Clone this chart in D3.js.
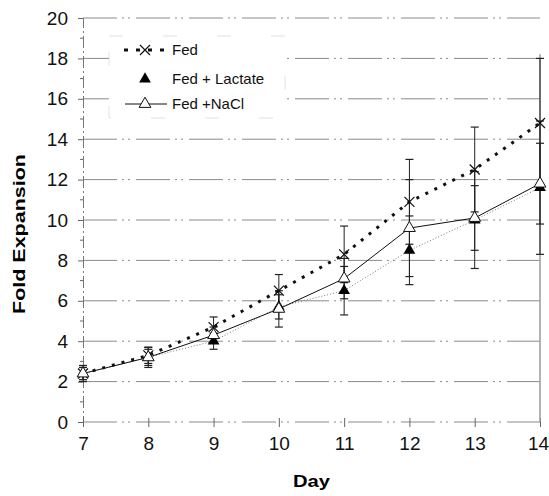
<!DOCTYPE html>
<html>
<head>
<meta charset="utf-8">
<script src="https://cdn.jsdelivr.net/npm/d3@7"></script>
<style>
  body { margin: 0; background: #fff; }
  svg { display: block; font-family: "Liberation Sans", Arial, sans-serif; }
</style>
</head>
<body>
<div id="chart"></div>
<script>
// valores
const days = [7, 8, 9, 10, 11, 12, 13, 14];
const fed = [2.4, 3.3, 4.7, 6.5, 8.3, 10.9, 12.5, 14.8];
const fedErr = [0.4, 0.4, 0.5, 0.8, 1.4, 2.1, 2.1, 3.2];
const lactate = [2.4, 3.2, 4.0, 5.7, 6.5, 8.5, 10.0, 11.6];
const lactateErr = [0.3, 0.5, 0.4, 0.6, 1.2, 1.7, 2.4, 3.3];
const nacl = [2.4, 3.2, 4.3, 5.6, 7.1, 9.6, 10.1, 11.8];
const naclErr = [0.3, 0.4, 0.4, 0.9, 1.0, 2.4, 1.6, 2.0];
const yTicks = [0, 2, 4, 6, 8, 10, 12, 14, 16, 18, 20];
const yMinor = [1, 3, 5, 7, 9, 11, 13, 15, 17, 19];
const legendNames = ["Fed", "Fed + Lactate", "Fed +NaCl"];

const width = 549, height = 496;
const mLeft = 83, mRight = 540, mTop = 18, mBottom = 422;

const svg = d3.select("#chart").append("svg")
    .attr("width", width).attr("height", height);

const x = d3.scaleLinear().domain([7, 14]).range([mLeft, mRight]);
const y = d3.scaleLinear().domain([0, 20]).range([mBottom, mTop]);

// rejilla
svg.append("g")
    .selectAll("line")
    .data(yTicks)
    .enter().append("line")
    .attr("x1", mLeft).attr("x2", mRight)
    .attr("y1", d => y(d)).attr("y2", d => y(d))
    .attr("stroke", "#8a8a8a")
    .attr("stroke-width", 1)
    .attr("stroke-dasharray", "34,5,2,4,2,6");

// eje y
const gy = svg.append("g")
    .attr("transform", `translate(${mLeft},0)`)
    .call(d3.axisLeft(y).tickValues(yTicks).tickSize(5).tickPadding(10));
gy.select(".domain").attr("stroke", "#777").attr("stroke-dasharray", "12,3,2,3");
gy.selectAll(".tick line").attr("stroke", "#666");
gy.selectAll("text").attr("font-size", "19px").attr("fill", "#111")
    .attr("font-family", "Liberation Sans, Arial, sans-serif");

svg.append("g").selectAll("line")
    .data(yMinor).enter().append("line")
    .attr("x1", mLeft - 3).attr("x2", mLeft)
    .attr("y1", d => y(d)).attr("y2", d => y(d))
    .attr("stroke", "#666");

// eje x
const gx = svg.append("g")
    .attr("transform", `translate(0,${mBottom})`)
    .call(d3.axisBottom(x).tickValues(days).tickFormat(d3.format("d")).tickSize(5).tickPadding(10));
gx.select(".domain").attr("stroke", "none");
gx.selectAll(".tick line").attr("stroke", "#666").attr("y1", -4);
gx.selectAll("text").attr("font-size", "19px").attr("fill", "#111")
    .attr("font-family", "Liberation Sans, Arial, sans-serif")
    .attr("dx", d => d === 14 ? -2 : 0);

// borde derecho en el dia 14
svg.append("line")
    .attr("x1", x(14)).attr("x2", x(14))
    .attr("y1", y(18.2)).attr("y2", mBottom)
    .attr("stroke", "#9a9a9a").attr("stroke-width", 1.5);

// leyenda (fondo blanco tapa la rejilla)
const lg = svg.append("g");
lg.append("rect")
    .attr("x", 109).attr("y", 36).attr("width", 176).attr("height", 82)
    .attr("fill", "#fff").attr("stroke", "#ccc").attr("stroke-width", 0.6)
    .attr("stroke-dasharray", "14,40");

const series = [
  {name: legendNames[0], vals: fed, err: fedErr},
  {name: legendNames[1], vals: lactate, err: lactateErr},
  {name: legendNames[2], vals: nacl, err: naclErr}
];

// barras de error
series.forEach(s => {
  const g = svg.append("g");
  days.forEach((d, i) => {
    const cx = x(d), y0 = y(s.vals[i] - s.err[i]), y1 = y(s.vals[i] + s.err[i]);
    g.append("line").attr("x1", cx).attr("x2", cx).attr("y1", y0).attr("y2", y1)
      .attr("stroke", "#222").attr("stroke-width", 1);
    [y0, y1].forEach(v => g.append("line")
      .attr("x1", cx - 4).attr("x2", cx + 4).attr("y1", v).attr("y2", v)
      .attr("stroke", "#222").attr("stroke-width", 1.2));
  });
});

const line = d3.line().x((d, i) => x(days[i])).y(d => y(d));

svg.append("path").datum(lactate).attr("d", line)
    .attr("fill", "none").attr("stroke", "#777").attr("stroke-width", 1)
    .attr("stroke-dasharray", "1,2");
svg.append("path").datum(nacl).attr("d", line)
    .attr("fill", "none").attr("stroke", "#111").attr("stroke-width", 1);
svg.append("path").datum(fed).attr("d", line)
    .attr("fill", "none").attr("stroke", "#111").attr("stroke-width", 3)
    .attr("stroke-dasharray", "3,7");

const cross = "M-5,-5L5,5M-5,5L5,-5";
const tri = d3.symbol().type(d3.symbolTriangle).size(60);

svg.append("g").selectAll("path")
    .data(lactate).enter().append("path")
    .attr("d", tri)
    .attr("transform", (d, i) => `translate(${x(days[i])},${y(d)})`)
    .attr("fill", "#000");

svg.append("g").selectAll("path")
    .data(fed).enter().append("path")
    .attr("d", cross)
    .attr("transform", (d, i) => `translate(${x(days[i])},${y(d)})`)
    .attr("stroke", "#111").attr("stroke-width", 1.2).attr("fill", "none");

svg.append("g").selectAll("path")
    .data(nacl).enter().append("path")
    .attr("d", tri)
    .attr("transform", (d, i) => `translate(${x(days[i])},${y(d)})`)
    .attr("fill", "#fff").attr("stroke", "#111").attr("stroke-width", 1);

// contenido de la leyenda
const ly = [50, 79, 104];
lg.append("line").attr("x1", 124).attr("x2", 166).attr("y1", ly[0]).attr("y2", ly[0])
    .attr("stroke", "#111").attr("stroke-width", 3).attr("stroke-dasharray", "4,8");
lg.append("path").attr("d", cross).attr("transform", `translate(145,${ly[0]})`)
    .attr("stroke", "#111").attr("stroke-width", 1.2).attr("fill", "none");
lg.append("path").attr("d", tri).attr("transform", `translate(145,${ly[1]})`).attr("fill", "#000");
lg.append("line").attr("x1", 125).attr("x2", 167).attr("y1", ly[2]).attr("y2", ly[2])
    .attr("stroke", "#111").attr("stroke-width", 1);
lg.append("path").attr("d", tri).attr("transform", `translate(145,${ly[2]})`)
    .attr("fill", "#fff").attr("stroke", "#111");
lg.selectAll("text.lab").data(legendNames).enter().append("text")
    .attr("class", "lab")
    .attr("x", 172).attr("y", (d, i) => ly[i] + 5)
    .attr("font-size", "15px").attr("fill", "#111")
    .text(d => d);

// titulos de ejes
svg.append("text")
    .attr("x", (mLeft + mRight) / 2).attr("y", 487)
    .attr("text-anchor", "middle")
    .attr("font-size", "17px").attr("font-weight", "bold")
    .attr("textLength", 37).attr("lengthAdjust", "spacingAndGlyphs")
    .text("Day");

svg.append("text")
    .attr("transform", "translate(25,234) rotate(-90)")
    .attr("text-anchor", "middle")
    .attr("font-size", "17px").attr("font-weight", "bold")
    .attr("textLength", 160).attr("lengthAdjust", "spacingAndGlyphs")
    .text("Fold Expansion");
</script>
</body>
</html>
